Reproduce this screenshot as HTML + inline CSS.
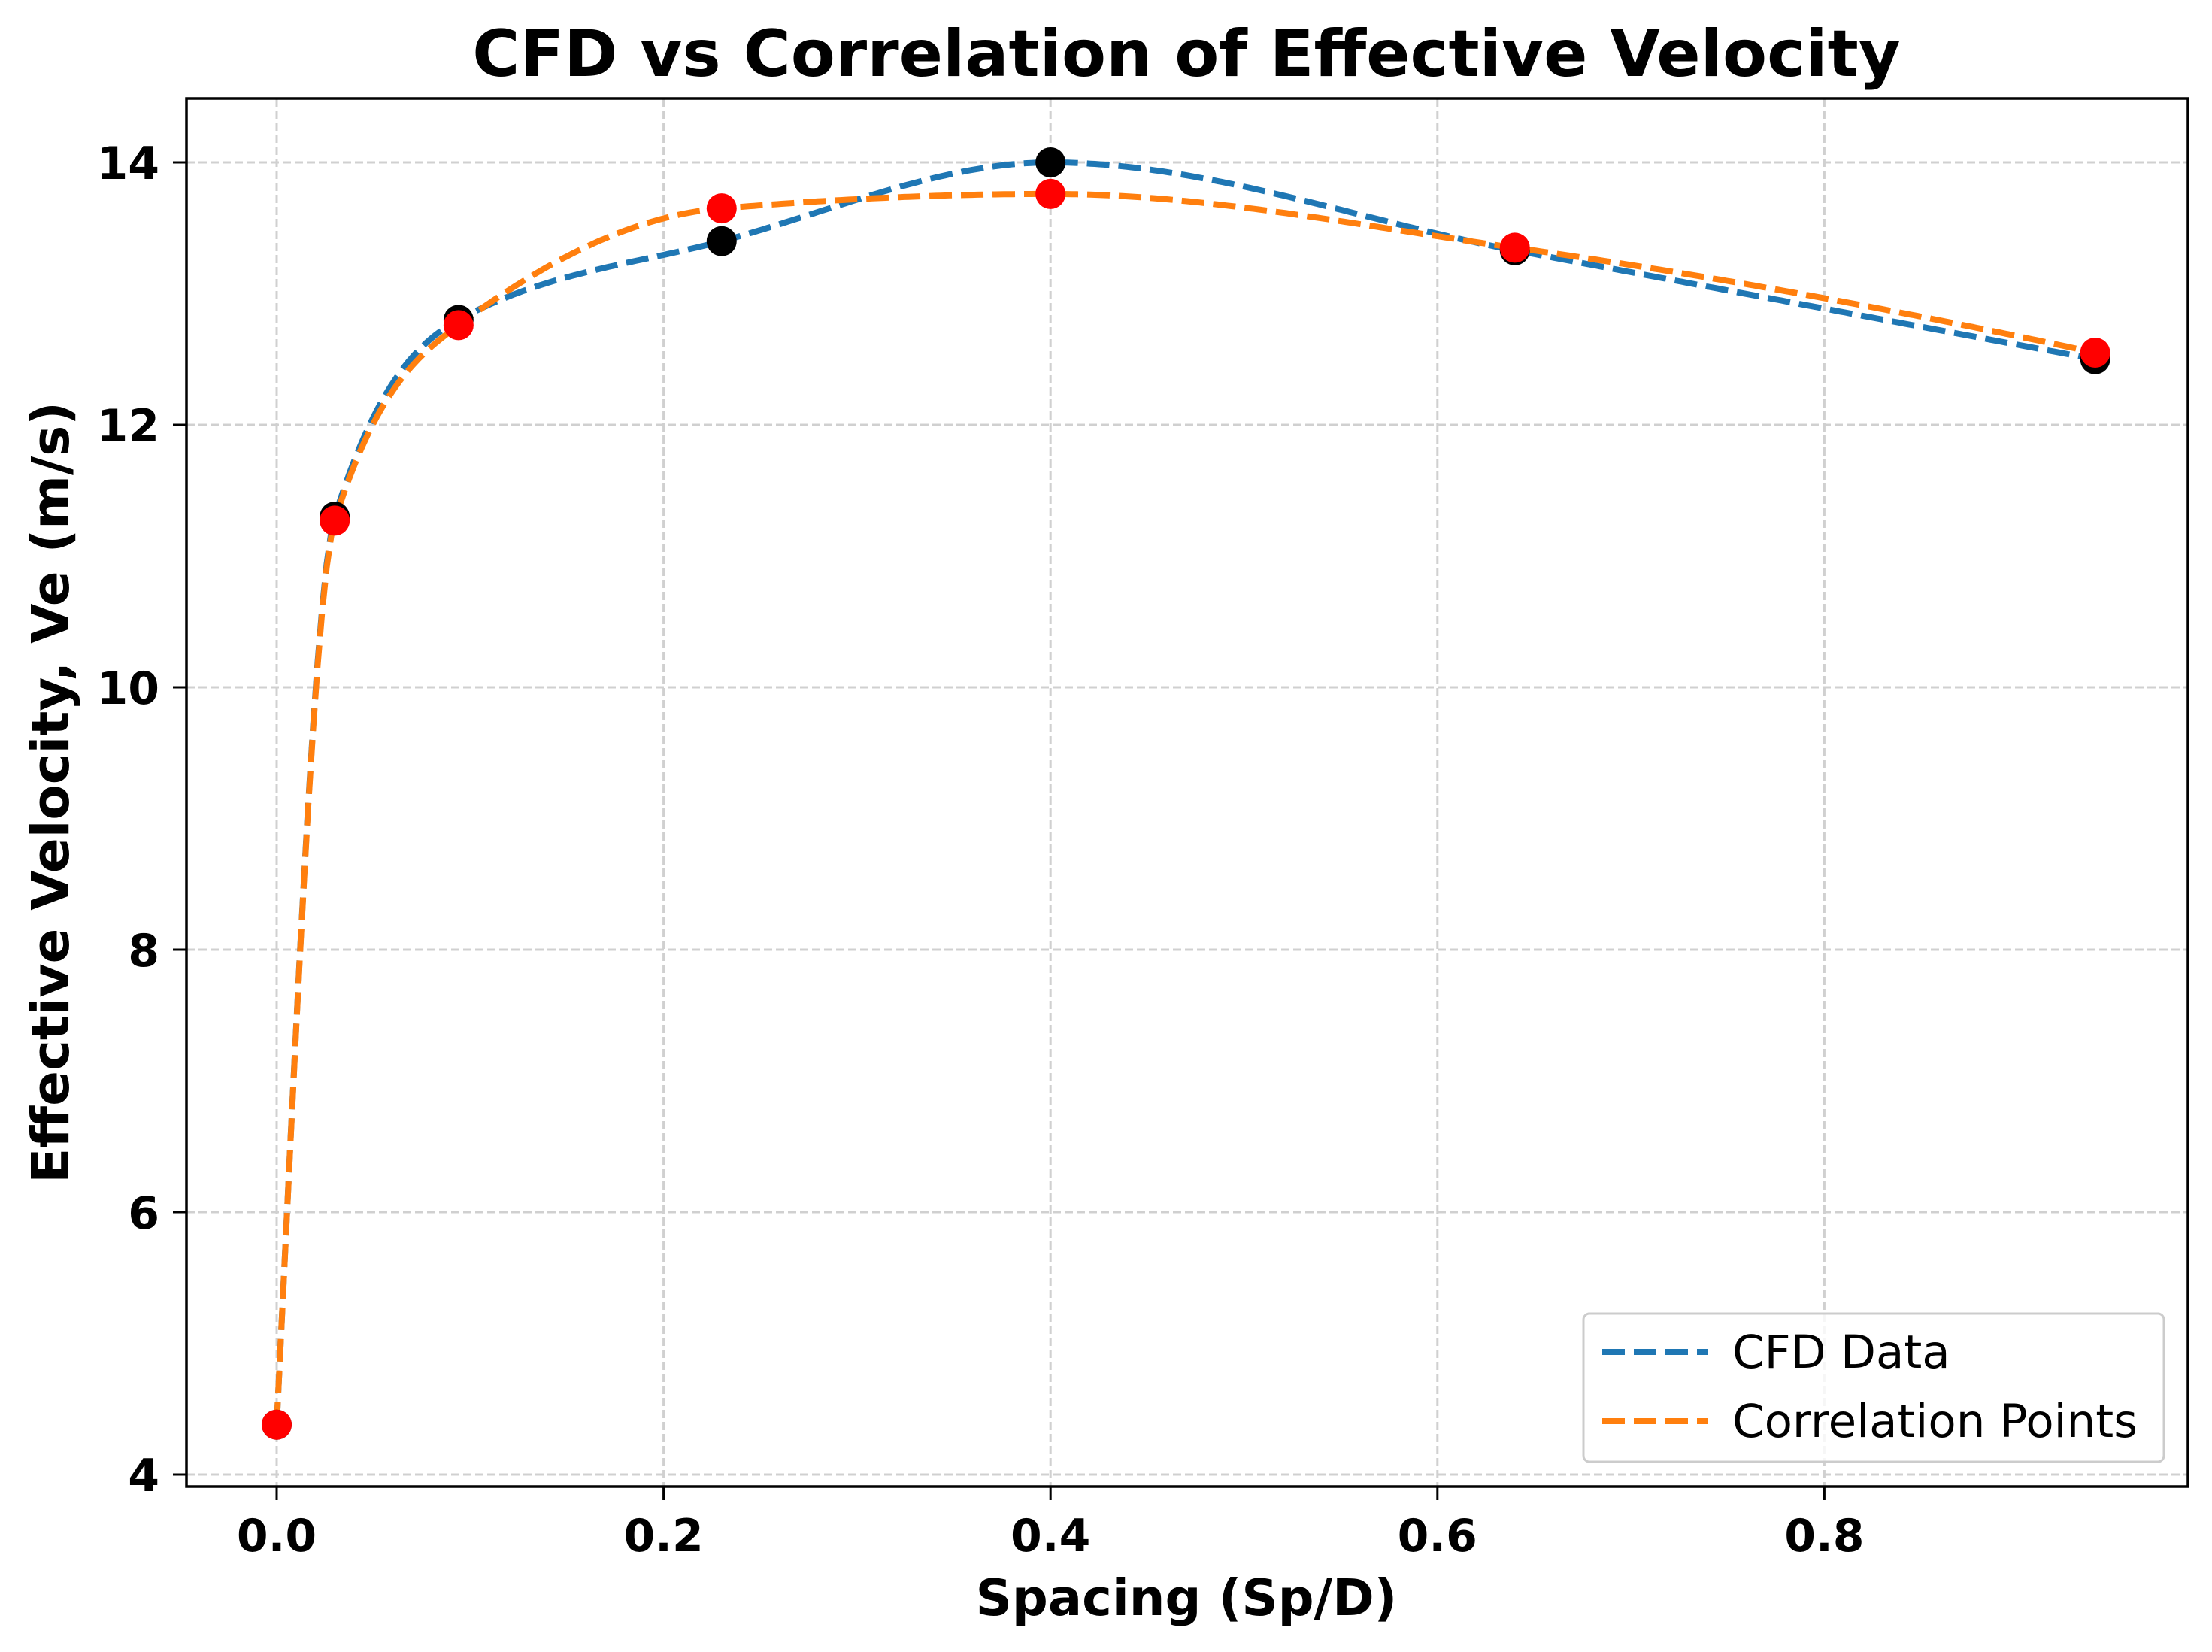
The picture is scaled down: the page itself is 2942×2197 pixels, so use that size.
<!DOCTYPE html>
<html><head><meta charset="utf-8"><style>
body{margin:0;background:#fff}
svg{display:block;font-family:"DejaVu Sans","Liberation Sans",sans-serif}
</style></head><body>
<svg id="chart" width="2942" height="2197" viewBox="0 0 2942 2197">
<text x="1578" y="101" text-anchor="middle" font-size="86" font-weight="bold">CFD vs Correlation of Effective Velocity</text>
<text x="1578" y="2148" text-anchor="middle" font-size="67" font-weight="bold">Spacing (Sp/D)</text>
<text transform="translate(91,1054) rotate(-90)" text-anchor="middle" font-size="69" font-weight="bold">Effective Velocity, Ve (m/s)</text>
<g id="grid"></g>
<g id="series"></g>
<g id="axes"></g>
<g>
<rect x="2106" y="1747" width="772" height="197" rx="8" fill="#fff" fill-opacity="0.8" stroke="#ccc" stroke-width="3"/>
<line x1="2131" y1="1798" x2="2272" y2="1798" stroke="#1f77b4" stroke-width="8" stroke-dasharray="30,12"/>
<text x="2304" y="1819" font-size="61">CFD Data</text>
<line x1="2131" y1="1890" x2="2272" y2="1890" stroke="#ff7f0e" stroke-width="8" stroke-dasharray="30,12"/>
<text x="2304" y="1911" font-size="61">Correlation Points</text>
</g>
</svg>
<script>
const cfdX=[0,0.03,0.094,0.23,0.4,0.64,0.94];
const cfdY=[4.38,11.3,12.8,13.4,14.0,13.33,12.5];
const corrX=[0,0.03,0.094,0.23,0.4,0.64,0.94];
const corrY=[4.38,11.27,12.76,13.65,13.76,13.35,12.55];
const xTicks=[0,0.2,0.4,0.6,0.8];
const xTickLabels=["0.0","0.2","0.4","0.6","0.8"];
const yTicks=[4,6,8,10,12,14];
const yTickLabels=["4","6","8","10","12","14"];

const L=248,R=2910,T=131,B=1977;
const sx=v=>368+v*2573;
const sy=v=>216+(14-v)*174.5;
const NS="http://www.w3.org/2000/svg";
function mk(tag,attrs,parent){const e=document.createElementNS(NS,tag);for(const k in attrs)e.setAttribute(k,attrs[k]);parent.appendChild(e);return e;}
const grid=document.getElementById('grid'),axes=document.getElementById('axes'),series=document.getElementById('series');
xTicks.forEach((t,i)=>{
  const g=mk('line',{x1:sx(t),x2:sx(t),y1:T,y2:B,stroke:'#d0d0d0','stroke-width':3,'stroke-dasharray':'11,5'},grid);
  
  
  const tk=mk('line',{x1:sx(t),x2:sx(t),y1:B,y2:B+18,stroke:'#000','stroke-width':3},axes);
  
  
  const tx=mk('text',{x:sx(t),y:2063,'text-anchor':'middle','font-size':60,'font-weight':'bold'},axes);
  tx.textContent=xTickLabels[i];
  
  
});
yTicks.forEach((t,i)=>{
  const g=mk('line',{x1:L,x2:R,y1:sy(t),y2:sy(t),stroke:'#d0d0d0','stroke-width':3,'stroke-dasharray':'11,5'},grid);
  
  
  const tk=mk('line',{x1:L-18,x2:L,y1:sy(t),y2:sy(t),stroke:'#000','stroke-width':3},axes);
  
  
  const tx=mk('text',{x:212,y:sy(t)+22,'text-anchor':'end','font-size':60,'font-weight':'bold'},axes);
  tx.textContent=yTickLabels[i];
  
  
});
const frame=mk('rect',{x:L,y:T,width:R-L,height:B-T,fill:'none',stroke:'#000','stroke-width':3.5},axes);



function pchip(xs,ys){
  const n=xs.length,h=[],dl=[],m=new Array(n);
  for(let i=0;i<n-1;i++){h[i]=xs[i+1]-xs[i];dl[i]=(ys[i+1]-ys[i])/h[i];}
  for(let i=1;i<n-1;i++){
    if(dl[i-1]*dl[i]<=0)m[i]=0;
    else{const w1=2*h[i]+h[i-1],w2=h[i]+2*h[i-1];m[i]=(w1+w2)/(w1/dl[i-1]+w2/dl[i]);}
  }
  function end(h0,h1,d0,d1){let d=((2*h0+h1)*d0-h0*d1)/(h0+h1);if(Math.sign(d)!==Math.sign(d0))d=0;else if(Math.sign(d0)!==Math.sign(d1)&&Math.abs(d)>Math.abs(3*d0))d=3*d0;return d;}
  m[0]=end(h[0],h[1],dl[0],dl[1]);
  m[n-1]=end(h[n-2],h[n-3],dl[n-2],dl[n-3]);
  return x=>{let i=0;while(i<n-2&&x>xs[i+1])i++;const t=(x-xs[i])/h[i],t2=t*t,t3=t2*t;
    return (2*t3-3*t2+1)*ys[i]+(t3-2*t2+t)*h[i]*m[i]+(-2*t3+3*t2)*ys[i+1]+(t3-t2)*h[i]*m[i+1];};
}
function curve(xs,ys,color,name){
  const f=pchip(xs,ys),x0=xs[0],x1=xs[xs.length-1];let p='';
  for(let k=0;k<=400;k++){const x=x0+(x1-x0)*k/400;p+=(k?'L':'M')+sx(x).toFixed(1)+','+sy(f(x)).toFixed(1);}
  const e=mk('path',{d:p,fill:'none',stroke:color,'stroke-width':8,'stroke-dasharray':'30,12'},series);
  
  
}
curve(cfdX,cfdY,'#1f77b4','cfd-line');
curve(corrX,corrY,'#ff7f0e','correlation-line');
cfdX.forEach((x,i)=>{
  const c=mk('circle',{cx:sx(x),cy:sy(cfdY[i]),r:20,fill:'#000'},series);
  
  
});
corrX.forEach((x,i)=>{
  const c=mk('circle',{cx:sx(x),cy:sy(corrY[i]),r:20,fill:'#ff0000'},series);
  
  
});
</script>
</body></html>
